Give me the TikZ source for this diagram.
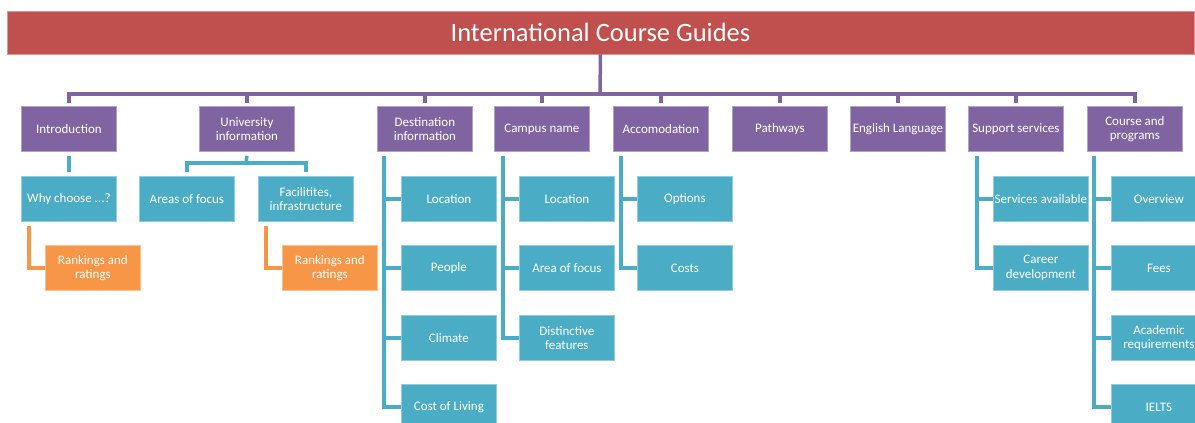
\documentclass[tikz,border=0pt]{standalone}
\usepackage{fontspec}
\setmainfont{Carlito}
\definecolor{tpurple}{HTML}{8064A2}
\definecolor{tteal}{HTML}{4BACC6}
\definecolor{torange}{HTML}{F79646}
\definecolor{tred}{HTML}{C0504D}
\begin{document}
\begin{tikzpicture}[x=1pt,y=-1pt,
  box/.style={anchor=north west, minimum width=95pt, minimum height=45pt, align=center,
    font=\fontsize{13}{14.5}\selectfont, text=white, inner sep=0pt, line width=0.8pt},
  lvone/.style={box, fill=tpurple, draw=tpurple!60!white},
  lvtwo/.style={box, fill=tteal, draw=tteal!60!white},
  lvthree/.style={box, fill=torange, draw=torange!60!white},
  pconn/.style={draw=tpurple, line width=3.5pt},
  tconn/.style={draw=tteal, line width=3.5pt},
  oconn/.style={draw=torange, line width=3.5pt}]
\useasboundingbox (0,0) rectangle (1195,423);
% title
\node[fill=tred, draw=tred!60!white, line width=0.8pt, minimum width=1187pt, minimum height=43pt, inner sep=0pt,
  text=white, font=\fontsize{26.5}{30}\selectfont] (title) at (600.5,32.5) {International Course Guides};
% level one
\node[lvone] (intro) at (21,106) {Introduction};
\node[lvone] (uni) at (199,106) {University\\information};
\node[lvone] (dest) at (377,106) {Destination\\information};
\node[lvone] (camp) at (494,106) {Campus name};
\node[lvone] (acc) at (613,106) {Accomodation};
\node[lvone] (path) at (732,106) {Pathways};
\node[lvone] (eng) at (850,106) {English Language};
\node[lvone] (supp) at (968,106) {Support services};
\node[lvone] (course) at (1087,106) {Course and\\programs};
\coordinate (bus) at (600,94);
\draw[pconn] (title.south) -- (bus);
\foreach \n in {intro,uni,dest,camp,acc,path,eng,supp,course}
  \draw[pconn] ([yshift=3pt]\n.north) |- (bus);
% introduction
\node[lvtwo] (why) at (21,176) {Why choose ...?};
\draw[tconn] ([yshift=-4pt]intro.south) -- ([yshift=4pt]why.north);
\node[lvthree] (rank1) at (45,245) {Rankings and\\ratings};
\draw[oconn] ([xshift=8pt,yshift=-4pt]why.south west) |- (rank1.west);
% university
\node[lvtwo] (areas) at (139,176) {Areas of focus};
\node[lvtwo] (facil) at (258,176) {Facilitites,\\infrastructure};
\coordinate (ubus) at (246,163);
\draw[tconn] ([yshift=-4pt]uni.south) -- (ubus);
\draw[tconn] ([yshift=4pt]areas.north) |- (ubus);
\draw[tconn] ([yshift=4pt]facil.north) |- (ubus);
\node[lvthree] (rank2) at (282,245) {Rankings and\\ratings};
\draw[oconn] ([xshift=8pt,yshift=-4pt]facil.south west) |- (rank2.west);
% destination
\node[lvtwo] (dloc) at (401,176) {Location};
\node[lvtwo] (dpeo) at (401,245) {People};
\node[lvtwo] (dcli) at (401,315) {Climate};
\node[lvtwo] (dcost) at (401,384) {Cost of Living};
\foreach \c in {dloc,dpeo,dcli,dcost}
  \draw[tconn] ([xshift=7pt,yshift=-4pt]dest.south west) |- (\c.west);
% campus
\node[lvtwo] (cloc) at (519,176) {Location};
\node[lvtwo] (carea) at (519,245) {Area of focus};
\node[lvtwo] (cdist) at (519,315) {Distinctive\\features};
\foreach \c in {cloc,carea,cdist}
  \draw[tconn] ([xshift=9pt,yshift=-4pt]camp.south west) |- (\c.west);
% accommodation
\node[lvtwo] (aopt) at (637,176) {Options};
\node[lvtwo] (acost) at (637,245) {Costs};
\foreach \c in {aopt,acost}
  \draw[tconn] ([xshift=8pt,yshift=-4pt]acc.south west) |- (\c.west);
% support
\node[lvtwo] (sserv) at (993,176) {Services available};
\node[lvtwo] (scar) at (993,245) {Career\\development};
\foreach \c in {sserv,scar}
  \draw[tconn] ([xshift=9pt,yshift=-4pt]supp.south west) |- (\c.west);
% course
\node[lvtwo] (cover) at (1111,176) {Overview};
\node[lvtwo] (cfees) at (1111,245) {Fees};
\node[lvtwo] (cacad) at (1111,315) {Academic\\requirements};
\node[lvtwo] (cielts) at (1111,384) {IELTS};
\foreach \c in {cover,cfees,cacad,cielts}
  \draw[tconn] ([xshift=7pt,yshift=-4pt]course.south west) |- (\c.west);
\end{tikzpicture}
\end{document}
